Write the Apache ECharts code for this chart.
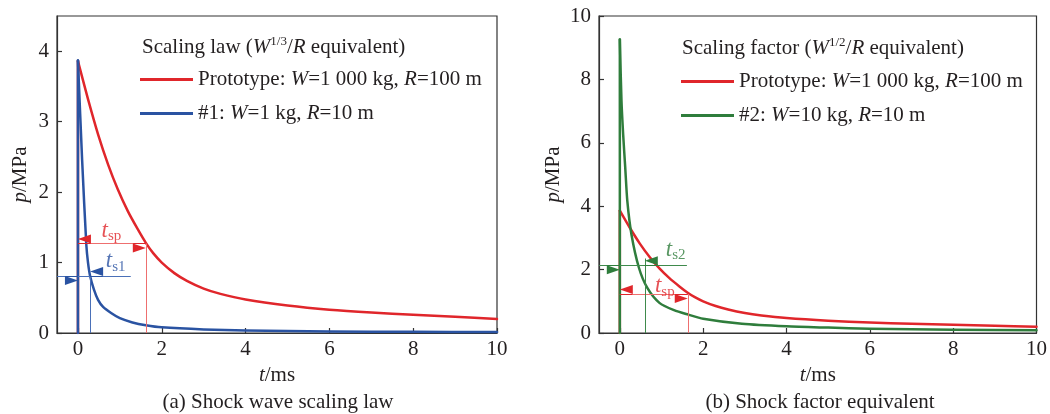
<!DOCTYPE html>
<html>
<head>
<meta charset="utf-8">
<script src="https://cdn.jsdelivr.net/npm/echarts@6/dist/echarts.min.js"></script>
<style>
  html, body { margin: 0; padding: 0; background: #fff; }
  #chart { width: 1050px; height: 414px; }
</style>
</head>
<body>
<div id="chart"></div>
<script>
// Overpressure histories: time t in ms, pressure p in MPa

// Prototype charge (W = 1 000 kg, R = 100 m)
const protoT = [0, 0, 0.24, 0.48, 0.72, 0.95, 1.19, 1.43, 1.62, 1.8, 2.0, 2.3, 2.6, 3.0, 3.4, 4, 5, 6, 7, 8, 9, 10];
const protoP = [0, 3.86, 3.32, 2.82, 2.39, 2.04, 1.73, 1.47, 1.28, 1.13, 1.0, 0.85, 0.74, 0.63, 0.555, 0.475, 0.39, 0.33, 0.29, 0.26, 0.23, 0.20];

// Model #1 (W = 1 kg, R = 10 m)
const model1T = [0, 0, 0.1, 0.2, 0.24, 0.29, 0.38, 0.48, 0.6, 0.8, 1.0, 1.3, 1.62, 2, 3, 4, 6, 8, 10];
const model1P = [0, 3.87, 2.45, 1.25, 1.0, 0.81, 0.62, 0.47, 0.37, 0.28, 0.21, 0.15, 0.11, 0.08, 0.05, 0.035, 0.022, 0.017, 0.015];

// Model #2 (W = 10 kg, R = 10 m)
const model2T = [0, 0, 0.04, 0.08, 0.13, 0.18, 0.28, 0.46, 0.66, 0.95, 1.3, 1.64, 2, 2.93, 4, 5, 6, 8, 10];
const model2P = [0, 9.26, 7.31, 6.26, 5.21, 4.16, 3.10, 2.05, 1.42, 0.95, 0.72, 0.58, 0.45, 0.29, 0.21, 0.17, 0.135, 0.105, 0.085];

// Positive-phase duration markers
const tspLeft = 1.62, pspLeft = 1.27;       // prototype, panel (a)
const ts1 = 0.29, ps1 = 0.81;               // model #1
const tspRight = 1.63, pspRight = 1.23;     // prototype, panel (b)
const ts2 = 0.6, ps2 = 2.14, ts2Top = 2.35; // model #2
const guideStartT = -0.5;                   // guide lines start at the left frame
const ts1GuideEnd = 1.26, ts2GuideEnd = 1.61;
const HEAD = 0.3;                           // arrowhead shaft length, ms

// Axis ticks
const xTicks = [0, 2, 4, 6, 8, 10];
const yTicksLeft = [0, 1, 2, 3, 4];
const yTicksRight = [0, 2, 4, 6, 8, 10];

// Marker label positions (t, p)
const tspLeftLabel = [0.8, 1.45];
const ts1Label = [0.9, 1.02];
const ts2Label = [1.34, 2.63];
const tspRightLabel = [1.08, 1.47];

const names = {
  proto: 'Prototype: W=1 000 kg, R=100 m',
  m1: '#1: W=1 kg, R=10 m',
  m2: '#2: W=10 kg, R=10 m'
};
const richNames = {
  [names.proto]: 'Prototype: {i|W}=1 000 kg, {i|R}=100 m',
  [names.m1]: '#1: {i|W}=1 kg, {i|R}=10 m',
  [names.m2]: '#2: {i|W}=10 kg, {i|R}=10 m'
};

const RED = '#e0262b', BLUE = '#2a53a2', GREEN = '#2f7d3c';
const RED_THIN = '#ee6f6f', BLUE_THIN = '#4a70b8', GREEN_THIN = '#3f8a4c';
const FONT = "'Liberation Serif', 'Times New Roman', serif";
const FS = 21;
const INK = '#231f20';

const zip = (ts, ps) => ts.map((t, i) => [t, ps[i]]);

// Each record: a sharp rise at t = 0, then a smooth decay carrying the legend name
function curve(name, ts, ps, color, gi) {
  const pts = zip(ts, ps);
  const common = {
    type: 'line', xAxisIndex: gi, yAxisIndex: gi, showSymbol: false, symbol: 'none',
    lineStyle: { color, width: 2.5, cap: 'round', join: 'round' }, itemStyle: { color },
    animation: false, silent: true, z: 3
  };
  return [
    Object.assign({}, common, { data: pts.slice(0, 2) }),
    Object.assign({}, common, { name, data: pts.slice(1), smooth: 0.25 })
  ];
}

const richBase = {
  i: { fontFamily: FONT, fontStyle: 'italic', fontSize: FS, color: INK }
};

function xAxis(gi) {
  return {
    type: 'value', gridIndex: gi, min: -0.5, max: 10,
    axisLine: { show: true, onZero: false, lineStyle: { color: '#333', width: 1.2 } },
    axisTick: { show: true, inside: true, length: 5, customValues: xTicks, lineStyle: { color: '#333', width: 1.2 } },
    axisLabel: { customValues: xTicks, margin: 6, fontFamily: FONT, fontSize: FS, color: INK },
    splitLine: { show: false },
    name: '{i|t}/ms', nameLocation: 'middle', nameGap: 28,
    nameTextStyle: { fontFamily: FONT, fontSize: FS, color: INK, lineHeight: 22, rich: richBase }
  };
}

function yAxis(gi, max, ticks, gap) {
  return {
    type: 'value', gridIndex: gi, min: 0, max,
    axisLine: { show: true, onZero: false, lineStyle: { color: '#333', width: 1.2 } },
    axisTick: { show: true, inside: true, length: 5, customValues: ticks, lineStyle: { color: '#333', width: 1.2 } },
    axisLabel: { customValues: ticks, margin: 8, fontFamily: FONT, fontSize: FS, color: INK },
    splitLine: { show: false },
    name: '{i|p}/MPa', nameLocation: 'middle', nameGap: gap,
    nameTextStyle: { fontFamily: FONT, fontSize: FS, color: INK, lineHeight: 22, rich: richBase }
  };
}

// Plain thin guide line
function seg(a, b, color) {
  return [
    { coord: a, symbol: 'none', lineStyle: { color, width: 1, type: 'solid' } },
    { coord: b, symbol: 'none' }
  ];
}

// Solid arrowhead whose tip sits on (tip, p), pointing in direction dir (+1 right, -1 left)
function arrow(tip, p, dir, color) {
  return [
    { coord: [tip - dir * HEAD, p], symbol: 'none', lineStyle: { color, width: 1, type: 'solid' } },
    { coord: [tip, p], symbol: 'triangle' }
  ];
}

function markers(gi, lines) {
  return {
    type: 'line', xAxisIndex: gi, yAxisIndex: gi, data: [], silent: true, animation: false, z: 5,
    markLine: {
      silent: true, animation: false, precision: 4,
      symbolSize: [9, 13], symbolOffset: [0, '50%'],
      label: { show: false }, emphasis: { disabled: true },
      data: lines
    }
  };
}

function stLabel(gi, pos, sub, color) {
  return {
    type: 'scatter', xAxisIndex: gi, yAxisIndex: gi, data: [pos], silent: true, animation: false,
    symbolSize: 1, itemStyle: { color: 'rgba(0,0,0,0)' }, z: 6,
    label: {
      show: true, position: 'inside',
      formatter: '{t|t}{s|' + sub + '}',
      rich: {
        t: { fontFamily: FONT, fontStyle: 'italic', fontSize: 23, color, lineHeight: 26 },
        s: { fontFamily: FONT, fontSize: 15, color, lineHeight: 16, verticalAlign: 'bottom' }
      }
    }
  };
}

function legend(left, top, data) {
  return {
    orient: 'vertical', left, top, data, icon: 'rect', padding: 0,
    itemWidth: 53, itemHeight: 3, itemGap: 11, selectedMode: false,
    formatter: n => richNames[n],
    textStyle: { fontFamily: FONT, fontSize: FS, color: INK, lineHeight: 23, rich: richBase }
  };
}

const headRich = {
  i: { fontFamily: FONT, fontStyle: 'italic', fontSize: FS, fill: INK, lineHeight: 24 },
  sup: { fontFamily: FONT, fontSize: 13, fill: INK, lineHeight: 15, verticalAlign: 'top' },
  n: { fontFamily: FONT, fontSize: FS, fill: INK, lineHeight: 24 }
};

const chart = echarts.init(document.getElementById('chart'), null, { renderer: 'canvas' });
chart.setOption({
  backgroundColor: '#fff',
  animation: false,
  grid: [
    { left: 57, top: 16, width: 440, height: 317, show: true, borderColor: '#333', borderWidth: 1.2, backgroundColor: 'transparent' },
    { left: 599, top: 16, width: 440, height: 317, show: true, borderColor: '#333', borderWidth: 1.2, backgroundColor: 'transparent' }
  ],
  xAxis: [xAxis(0), xAxis(1)],
  yAxis: [yAxis(0, 4.5, yTicksLeft, 26), yAxis(1, 10, yTicksRight, 35)],
  legend: [
    legend(140, 68, [names.proto, names.m1]),
    legend(681, 70, [names.proto, names.m2])
  ],
  graphic: [
    { type: 'text', left: 142, top: 35, silent: true,
      style: { text: '{n|Scaling law (}{i|W}{sup|1/3}{n|/}{i|R}{n| equivalent)}', rich: headRich } },
    { type: 'text', left: 682, top: 36, silent: true,
      style: { text: '{n|Scaling factor (}{i|W}{sup|1/2}{n|/}{i|R}{n| equivalent)}', rich: headRich } },
    { type: 'text', x: 278, y: 402, silent: true,
      style: { text: '(a) Shock wave scaling law', fontFamily: FONT, fontSize: FS, fill: INK, align: 'center', verticalAlign: 'middle' } },
    { type: 'text', x: 820, y: 402, silent: true,
      style: { text: '(b) Shock factor equivalent', fontFamily: FONT, fontSize: FS, fill: INK, align: 'center', verticalAlign: 'middle' } }
  ],
  series: [
    ...curve(names.proto, protoT, protoP, RED, 0),
    ...curve(names.m1, model1T, model1P, BLUE, 0),
    ...curve(names.proto, protoT, protoP, RED, 1),
    ...curve(names.m2, model2T, model2P, GREEN, 1),
    markers(0, [
      seg([0, pspLeft], [tspLeft, pspLeft], RED_THIN),
      seg([tspLeft, 0], [tspLeft, pspLeft], RED_THIN),
      arrow(0, pspLeft, -1, RED),
      arrow(tspLeft, pspLeft, 1, RED),
      seg([guideStartT, ps1], [ts1GuideEnd, ps1], BLUE_THIN),
      seg([ts1, 0], [ts1, ps1], BLUE_THIN),
      arrow(0, ps1, 1, BLUE),
      arrow(ts1, ps1, -1, BLUE)
    ]),
    markers(1, [
      seg([0, pspRight], [tspRight, pspRight], RED_THIN),
      seg([tspRight, 0], [tspRight, pspRight], RED_THIN),
      arrow(0, pspRight, -1, RED),
      arrow(tspRight, pspRight, 1, RED),
      seg([guideStartT, ps2], [ts2GuideEnd, ps2], GREEN_THIN),
      seg([ts2, 0], [ts2, ts2Top], GREEN_THIN),
      arrow(0, ps2, 1, GREEN),
      arrow(ts2, ps2, -1, GREEN)
    ]),
    stLabel(0, tspLeftLabel, 'sp', RED),
    stLabel(0, ts1Label, 's1', BLUE),
    stLabel(1, ts2Label, 's2', GREEN),
    stLabel(1, tspRightLabel, 'sp', RED)
  ]
});
</script>
</body>
</html>
